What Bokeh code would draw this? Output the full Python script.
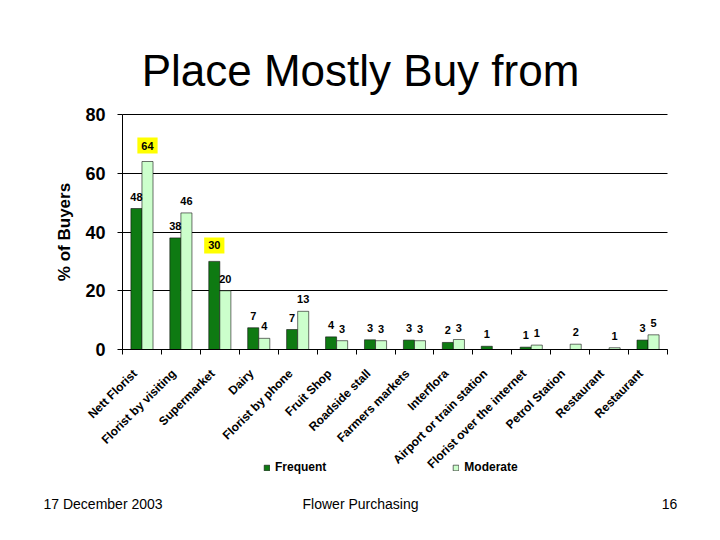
import math
from bokeh.plotting import figure
from bokeh.models import (Range1d, FixedTicker, LabelSet, Label, ColumnDataSource,
                          Legend, LegendItem)
from bokeh.core.properties import value
from bokeh.embed import file_html
from bokeh.resources import INLINE

categories = ["Nett Florist", "Florist by visiting", "Supermarket", "Dairy",
              "Florist by phone", "Fruit Shop", "Roadside stall", "Farmers markets",
              "Interflora", "Airport or train station", "Florist over the internet",
              "Petrol Station", "Restaurant", "Restaurant"]
frequent = [48, 38, 30, 7.4, 6.8, 4.3, 3.3, 3.2, 2.4, 1.1, 0.8, 0, 0, 3.2]
moderate = [64, 46.5, 20, 3.8, 13, 3, 3, 3, 3.4, 0, 1.5, 1.8, 0.6, 5]
freq_labels = ["48", "38", "30", "7", "7", "4", "3", "3", "2", "1", "1", "", "", "3"]
mod_labels = ["64", "46", "20", "4", "13", "3", "3", "3", "3", "", "1", "2", "1", "5"]
highlighted_freq = [False, False, True] + [False] * 11
highlighted_mod = [True] + [False] * 13
y_ticks = [0, 20, 40, 60, 80]
title_text = "Place Mostly Buy from"
footer_texts = ["17 December 2003", "Flower Purchasing", "16"]

FONT = "Liberation Sans"
C_FREQ = "#0e7a12"
C_MOD = "#ccffcc"

W, H = 720, 540
PL, PR, PT, PB = 122, 667, 114, 349   # plotting area edges in canvas pixels

n = len(categories)
xs = list(range(n))
off = 0.142
bw = 0.284
X0, X1 = -0.5, n - 0.5
Y0, Y1 = 0, 80
kx = (X1 - X0) / (PR - PL)
ky = (Y1 - Y0) / (PB - PT)

def px_x(px):
    return X0 + (px - PL) * kx

def px_y(py):
    return Y0 + (PB - py) * ky

# the frame covers the whole canvas; axes float at the plot-area edges
p = figure(width=W, height=H, output_backend="svg", toolbar_location=None,
           title=None,
           x_range=Range1d(px_x(0), px_x(W)), y_range=Range1d(px_y(H), px_y(0)),
           min_border=0)
p.outline_line_color = None
p.background_fill_color = "white"
p.border_fill_color = "white"

src_f = ColumnDataSource(dict(x=[x - off for x in xs], top=frequent))
src_m = ColumnDataSource(dict(x=[x + off for x in xs], top=moderate))

rf = p.vbar(x="x", top="top", width=bw, source=src_f, fill_color=C_FREQ,
            line_color="#111111", line_width=0.6)
rm = p.vbar(x="x", top="top", width=bw, source=src_m, fill_color=C_MOD,
            line_color="#111111", line_width=0.6)

# value labels
for sx, vals, labs, hl in [([x - off for x in xs], frequent, freq_labels, highlighted_freq),
                           ([x + off for x in xs], moderate, mod_labels, highlighted_mod)]:
    plain = dict(x=[], y=[], t=[])
    for x, v, t, h in zip(sx, vals, labs, hl):
        if not t:
            continue
        if h:
            p.add_layout(Label(x=x, y=v, text=t, y_offset=8, text_align="center",
                               text_baseline="bottom", text_font=FONT,
                               text_font_size="11px", text_font_style="bold",
                               text_color="black", background_fill_color="#ffff00",
                               padding=4))
        else:
            plain["x"].append(x); plain["y"].append(v); plain["t"].append(t)
    p.add_layout(LabelSet(x="x", y="y", text="t", source=ColumnDataSource(plain),
                          y_offset=8, text_align="center", text_baseline="bottom",
                          text_font=value(FONT), text_font_size=value("11px"),
                          text_font_style="bold", text_color="black"))

# grid (only across the plotting area)
p.xgrid.grid_line_color = None
p.ygrid.grid_line_color = "black"
p.ygrid.grid_line_width = 1
p.ygrid.ticker = FixedTicker(ticks=y_ticks)
p.ygrid.bounds = (Y0, Y1)
p.ygrid.cross_bounds = (X0, X1)

# y axis (left panel, drawn at the left edge of the bars)
p.yaxis.fixed_location = X0
p.yaxis.bounds = (Y0, Y1)
p.yaxis.ticker = FixedTicker(ticks=y_ticks)
p.yaxis.minor_tick_line_color = None
p.yaxis.major_tick_out = 5
p.yaxis.major_tick_in = 0
p.yaxis.major_label_standoff = 12
p.yaxis.major_label_text_font = FONT
p.yaxis.major_label_text_font_size = "18px"
p.yaxis.major_label_text_font_style = "bold"
p.yaxis.major_label_text_color = "black"
p.yaxis.axis_line_color = "black"
p.yaxis.axis_label = "% of Buyers"
p.yaxis.axis_label_text_font = FONT
p.yaxis.axis_label_text_font_size = "17px"
p.yaxis.axis_label_text_font_style = "bold"
p.yaxis.axis_label_text_color = "black"
p.yaxis.axis_label_standoff = 8

# x axis (below panel, drawn at y = 0); label anchors sit slightly left of centre
label_shift = -0.18
label_pos = [round(i + label_shift, 2) for i in xs]
p.xaxis.fixed_location = Y0
p.xaxis.bounds = (X0, X1)
p.xaxis.ticker = FixedTicker(ticks=label_pos,
                             minor_ticks=[x - 0.5 for x in range(n + 1)])
p.xaxis.major_label_overrides = {pos: c for pos, c in zip(label_pos, categories)}
p.xaxis.major_tick_line_color = None
p.xaxis.major_tick_out = 0
p.xaxis.major_tick_in = 0
p.xaxis.minor_tick_out = 5
p.xaxis.minor_tick_in = 0
p.xaxis.minor_tick_line_color = "black"
p.xaxis.major_label_orientation = math.pi / 4
p.xaxis.major_label_standoff = 17
p.xaxis.major_label_text_font = FONT
p.xaxis.major_label_text_font_size = "12px"
p.xaxis.major_label_text_font_style = "bold"
p.xaxis.major_label_text_color = "black"
p.xaxis.axis_line_color = "black"

# legend
legend = Legend(items=[LegendItem(label="Frequent", renderers=[rf]),
                       LegendItem(label="Moderate", renderers=[rm])],
                orientation="horizontal", location=(263, H - 474),
                glyph_width=7, glyph_height=7, label_standoff=5, spacing=126,
                padding=0, margin=0, border_line_color=None,
                background_fill_alpha=0, label_height=12,
                label_text_font=FONT, label_text_font_size="12px",
                label_text_font_style="bold", label_text_color="black")
p.add_layout(legend, "center")

# title
p.add_layout(Label(x=px_x(360), y=px_y(70), text=title_text, text_align="center",
                   text_baseline="alphabetic", text_font=FONT,
                   text_font_size="44px", text_color="black"))

# footer
for txt, px, align in zip(footer_texts, [43, 360, 669], ["left", "center", "center"]):
    p.add_layout(Label(x=px_x(px), y=px_y(503), text=txt, text_align=align,
                       text_baseline="middle", text_font=FONT,
                       text_font_size="14px", text_color="black"))

open("out.html", "w").write(file_html(p, INLINE))
